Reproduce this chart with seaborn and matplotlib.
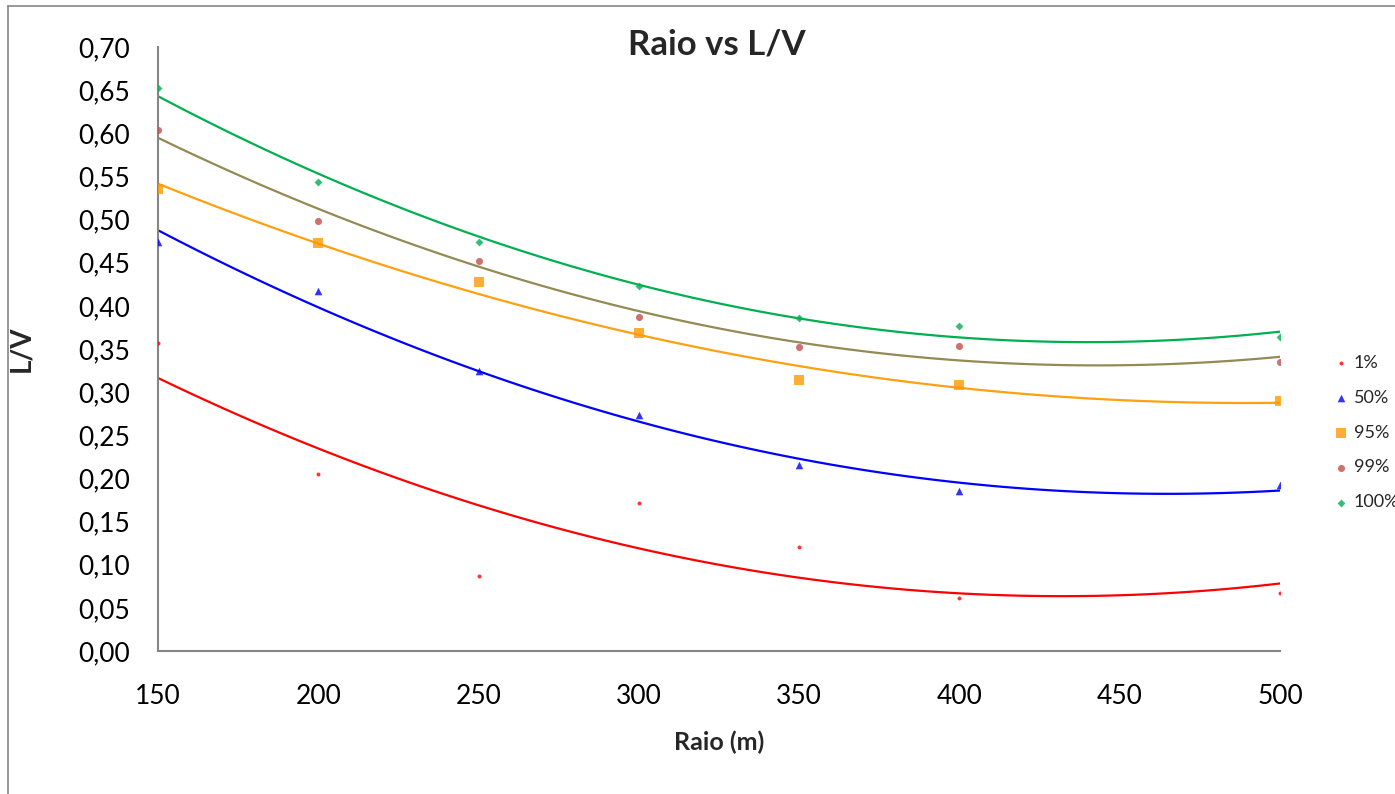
import matplotlib
matplotlib.use("Agg")
import matplotlib.pyplot as plt
from matplotlib.ticker import FuncFormatter, MultipleLocator
import seaborn as sns

# data
raio = [150, 200, 250, 300, 350, 400, 500]
lv_01 = [0.357, 0.205, 0.087, 0.171, 0.120, 0.062, 0.067]
lv_50 = [0.474, 0.417, 0.324, 0.273, 0.215, 0.185, 0.192]
lv_95 = [0.536, 0.473, 0.428, 0.368, 0.314, 0.308, 0.290]
lv_99 = [0.604, 0.498, 0.452, 0.387, 0.352, 0.354, 0.335]
lv_100 = [0.653, 0.543, 0.474, 0.423, 0.386, 0.377, 0.364]

labels = ["1%", "50%", "95%", "99%", "100%"]
series = [lv_01, lv_50, lv_95, lv_99, lv_100]
marker_colors = ["#FF0000", "#0000FF", "#FF9900", "#C0504D", "#00B050"]
line_colors = ["#FF0000", "#0000FF", "#FFA010", "#948A54", "#00B050"]
markers = ["o", "^", "s", "o", "D"]
sizes = [8, 30, 42, 26, 16]

sns.set_style("white")
plt.rcParams["font.family"] = ["Lato", "DejaVu Sans"]

fig = plt.figure(figsize=(13.95, 7.94), dpi=100)
ax = fig.add_axes([158 / 1395, 1 - 651 / 794, (1280 - 158) / 1395, (651 - 47) / 794])

# points + 2nd order trendline per series
for y, lab, mc, lc, mk, sz in zip(series, labels, marker_colors, line_colors, markers, sizes):
    sns.regplot(x=raio, y=y, order=2, ci=None, ax=ax, label=lab, marker=mk,
                scatter_kws=dict(color=mc, s=sz, linewidths=0, zorder=3),
                line_kws=dict(color=lc, lw=1.6, zorder=2))

ax.set_xlim(150, 500)
ax.set_ylim(0, 0.70)
ax.xaxis.set_major_locator(MultipleLocator(50))
ax.yaxis.set_major_locator(MultipleLocator(0.05))
ax.yaxis.set_major_formatter(FuncFormatter(lambda v, _: f"{v:.2f}".replace(".", ",")))

for s in ["top", "right"]:
    ax.spines[s].set_visible(False)
for s in ["left", "bottom"]:
    ax.spines[s].set_color("#868686")
    ax.spines[s].set_linewidth(1.5)
ax.tick_params(axis="both", direction="out", length=6, width=1.2, color="#868686",
               labelsize=19, labelcolor="black")
ax.tick_params(axis="y", pad=14)
ax.tick_params(axis="x", pad=18)

fig.text(717 / 1395, 1 - 45 / 794, "Raio vs L/V", ha="center", va="center",
         fontsize=25, fontweight="bold")
ax.set_xlabel("Raio (m)", fontsize=18, fontweight="bold", labelpad=15)
ax.set_ylabel("L/V", fontsize=20, fontweight="bold", labelpad=32)

leg = ax.legend(loc="center left", bbox_to_anchor=(1326 / 1395, 1 - 432.5 / 794),
                bbox_transform=fig.transFigure, frameon=False, fontsize=13,
                handlelength=0.7, handletextpad=0.35, labelspacing=1.05, borderpad=0)

# outer chart border (left and top edges visible in the reference)
fig.add_artist(plt.Line2D([8 / 1395, 8 / 1395], [0, 1 - 6 / 794], transform=fig.transFigure,
                          color="#868686", lw=1.2))
fig.add_artist(plt.Line2D([8 / 1395, 1], [1 - 6 / 794, 1 - 6 / 794], transform=fig.transFigure,
                          color="#868686", lw=1.2))

fig.savefig("out.png", dpi=100)
